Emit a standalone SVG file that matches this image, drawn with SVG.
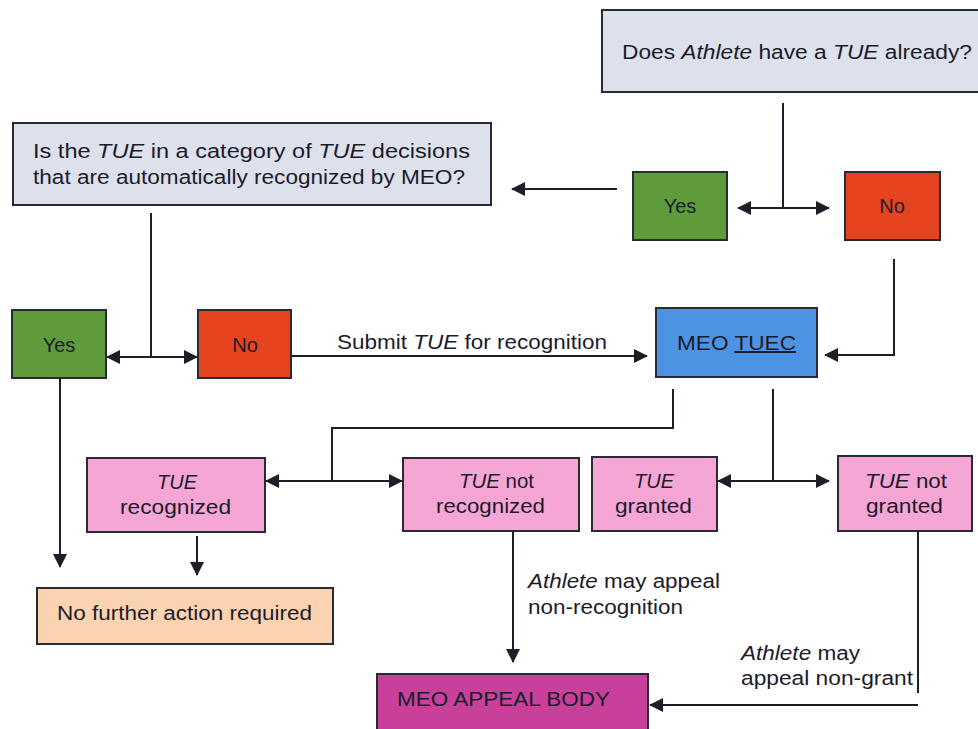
<svg xmlns="http://www.w3.org/2000/svg" width="978" height="729" viewBox="0 0 978 729">
<defs>
<marker id="ah" markerUnits="userSpaceOnUse" markerWidth="14" markerHeight="14" refX="13" refY="7" orient="auto-start-reverse" viewBox="0 0 14 14">
<path d="M0,0 L14,7 L0,14 z" fill="#1e1e28"/>
</marker>
<style>
.bx{stroke:#2a2a35;stroke-width:2}
.q{fill:#dde1eb}
.g{fill:#5e9b3b}
.r{fill:#e5441f}
.b{fill:#4d93e3}
.p{fill:#f5a6d4}
.pe{fill:#fcd3b1}
.m{fill:#c8409a}
text{font-family:"Liberation Sans",Arial,sans-serif;font-size:20px;fill:#1b1b2b}
.c{text-anchor:middle}
.i{font-style:italic}
.cn{fill:none;stroke:#1e1e28;stroke-width:2}
</style>
</defs>
<rect width="978" height="729" fill="#ffffff"/>

<g id="q1">
<rect class="bx q" x="602" y="10" width="380" height="82"/>
<text x="622" y="59" textLength="350" lengthAdjust="spacingAndGlyphs">Does <tspan class="i">Athlete</tspan> have a <tspan class="i">TUE</tspan> already?</text>
</g>
<g id="yes1">
<rect class="bx g" x="633" y="172" width="94" height="68"/>
<text class="c" x="680" y="213">Yes</text>
</g>
<g id="no1">
<rect class="bx r" x="845" y="172" width="95" height="68"/>
<text class="c" x="892" y="213">No</text>
</g>
<g id="q2">
<rect class="bx q" x="13" y="123" width="478" height="82"/>
<text x="33" y="158" textLength="437" lengthAdjust="spacingAndGlyphs">Is the <tspan class="i">TUE</tspan> in a category of <tspan class="i">TUE</tspan> decisions</text>
<text x="33" y="184" textLength="432" lengthAdjust="spacingAndGlyphs">that are automatically recognized by MEO?</text>
</g>
<g id="yes2">
<rect class="bx g" x="12" y="310" width="94" height="68"/>
<text class="c" x="59" y="352">Yes</text>
</g>
<g id="no2">
<rect class="bx r" x="198" y="310" width="93" height="68"/>
<text class="c" x="245" y="352">No</text>
</g>
<g id="tuec">
<rect class="bx b" x="656" y="308" width="161" height="69"/>
<text x="677" y="350" textLength="119" lengthAdjust="spacingAndGlyphs">MEO <tspan text-decoration="underline">TUEC</tspan></text>
</g>
<g id="recognized">
<rect class="bx p" x="87" y="458" width="178" height="74"/>
<text class="c i" x="177" y="489">TUE</text>
<text x="120" y="514" textLength="111" lengthAdjust="spacingAndGlyphs">recognized</text>
</g>
<g id="notrecognized">
<rect class="bx p" x="403" y="458" width="176" height="73"/>
<text x="459" y="488" textLength="75" lengthAdjust="spacingAndGlyphs"><tspan class="i">TUE</tspan> not</text>
<text x="436" y="513" textLength="109" lengthAdjust="spacingAndGlyphs">recognized</text>
</g>
<g id="granted">
<rect class="bx p" x="592" y="457" width="125" height="74"/>
<text class="c i" x="654" y="488">TUE</text>
<text x="615" y="513" textLength="77" lengthAdjust="spacingAndGlyphs">granted</text>
</g>
<g id="notgranted">
<rect class="bx p" x="838" y="456" width="134" height="75"/>
<text x="865" y="488" textLength="82" lengthAdjust="spacingAndGlyphs"><tspan class="i">TUE</tspan> not</text>
<text x="866" y="513" textLength="77" lengthAdjust="spacingAndGlyphs">granted</text>
</g>
<g id="nofurther">
<rect class="bx pe" x="37" y="588" width="296" height="56"/>
<text x="57" y="620" textLength="255" lengthAdjust="spacingAndGlyphs">No further action required</text>
</g>
<g id="appeal">
<rect class="bx m" x="377" y="674" width="271" height="64"/>
<text x="397" y="706" textLength="213" lengthAdjust="spacingAndGlyphs">MEO APPEAL BODY</text>
</g>

<g id="connectors">
<path class="cn" d="M783,103 V207"/>
<path class="cn" d="M738,208 H829" marker-start="url(#ah)" marker-end="url(#ah)"/>
<path class="cn" d="M617,189 H512" marker-end="url(#ah)"/>
<path class="cn" d="M151,213 V356"/>
<path class="cn" d="M107,357 H197" marker-start="url(#ah)" marker-end="url(#ah)"/>
<path class="cn" d="M291,356 H647" marker-end="url(#ah)"/>
<path class="cn" d="M894,259 V355 H825" marker-end="url(#ah)"/>
<path class="cn" d="M673,389 V428 H332 V481"/>
<path class="cn" d="M266,481 H402" marker-start="url(#ah)" marker-end="url(#ah)"/>
<path class="cn" d="M773,389 V481"/>
<path class="cn" d="M718,481 H829" marker-start="url(#ah)" marker-end="url(#ah)"/>
<path class="cn" d="M60,378 V567" marker-end="url(#ah)"/>
<path class="cn" d="M197,536 V575" marker-end="url(#ah)"/>
<path class="cn" d="M513,531 V662" marker-end="url(#ah)"/>
<path class="cn" d="M918,531 V693"/>
<path class="cn" d="M918,705 H650" marker-end="url(#ah)"/>
<text x="337" y="349" textLength="270" lengthAdjust="spacingAndGlyphs">Submit <tspan class="i">TUE</tspan> for recognition</text>
<text x="528" y="588" textLength="192" lengthAdjust="spacingAndGlyphs"><tspan class="i">Athlete</tspan> may appeal</text>
<text x="528" y="614" textLength="155" lengthAdjust="spacingAndGlyphs">non-recognition</text>
<text x="741" y="660" textLength="119" lengthAdjust="spacingAndGlyphs"><tspan class="i">Athlete</tspan> may</text>
<text x="741" y="685" textLength="172" lengthAdjust="spacingAndGlyphs">appeal non-grant</text>
</g>
</svg>
